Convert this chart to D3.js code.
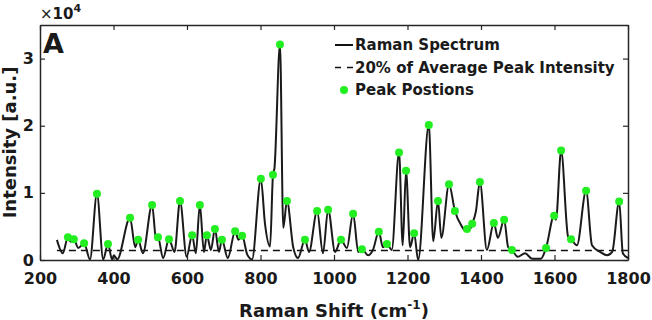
<!DOCTYPE html>
<html lang="en">
<head>
    <meta charset="UTF-8">
    <title>Raman Spectrum</title>
    <script src="https://d3js.org/d3.v7.min.js"></script>
    <style>
        body { margin: 0; background: #fff; }
        text { font-family: "DejaVu Sans", sans-serif; font-weight: bold; fill: #1a1a1a; }
    </style>
</head>
<body>

<svg id="chart"></svg>
<script>

    let width = 652;
    let height = 320;

    // spectrum trace, Raman shift (cm-1) vs intensity (a.u.)
    const shift = [246, 262, 276, 284, 292, 304, 320, 336, 355, 372, 385, 396, 401, 410,
        445, 459, 467, 480, 505, 516, 521, 535, 551, 566, 581, 599, 614, 624, 635, 646,
        654, 665, 676, 687, 695, 711, 731, 740, 750, 764, 777, 801, 812, 826, 834, 838,
        853, 862, 872, 889, 902, 921, 932, 954, 970, 984, 1003, 1019, 1035, 1052, 1066,
        1076, 1093, 1106, 1122, 1133, 1144, 1157, 1177, 1187, 1196, 1207, 1218, 1229,
        1258, 1270, 1283, 1292, 1313, 1329, 1348, 1356, 1362, 1369, 1376, 1386, 1397,
        1416, 1435, 1446, 1463, 1474, 1484, 1500, 1520, 1539, 1563, 1577, 1599, 1604,
        1618, 1637, 1645, 1661, 1686, 1702, 1724, 1743, 1757, 1776, 1786, 1800];
    const intensity = [3000, 1000, 3400, 2700, 3100, 1800, 2500, 100, 9850, 100, 2400, 100, 700, 100,
        6300, 1900, 3000, 1000, 8200, 3000, 3400, 300, 3100, 1200, 8800, 500, 3700, 1000, 8200, 1200,
        3700, 1500, 4600, 1200, 3000, 300, 4300, 3000, 3600, 800, 100, 12100, 5500, 2000, 12700, 13700,
        32100, 4800, 8800, 1900, 300, 3000, 1200, 7300, 1000, 7500, 1200, 3000, 1800, 6900, 1200,
        1600, 700, 1500, 4200, 1900, 2400, 1500, 16000, 2200, 13300, 1900, 4000, 0,
        20100, 2800, 8800, 3300, 11300, 7300, 5000, 4400, 4600, 4500, 5400, 7200, 11600,
        1500, 5500, 3300, 6000, 1900, 1500, 500, 1000, 200, 200, 1800, 6600, 6000,
        16300, 3500, 3100, 2200, 10300, 2200, 1200, 700, 1200, 8700, 1000, 300];

    // detected peak positions
    const peakShift = [276, 292, 320, 355, 385, 445, 467, 505, 521, 551, 581, 614, 635, 654, 676,
        695, 731, 750, 801, 834, 853, 872, 921, 954, 984, 1019, 1052, 1076, 1122, 1144, 1177,
        1196, 1218, 1258, 1283, 1313, 1329, 1362, 1376, 1397, 1435, 1463, 1484, 1577, 1599,
        1618, 1645, 1686, 1776];
    const peakIntensity = [3400, 3100, 2500, 9850, 2400, 6300, 3000, 8200, 3400, 3100, 8800, 3700,
        8200, 3700, 4600, 3000, 4300, 3600, 12100, 12700, 32100, 8800, 3000, 7300, 7500, 3000,
        6900, 1600, 4200, 2400, 16000, 13300, 4000, 20100, 8800, 11300, 7300, 4600, 5400, 11600,
        5500, 6000, 1500, 1800, 6600, 16300, 3100, 10300, 8700];

    const xTicks = [200, 400, 600, 800, 1000, 1200, 1400, 1600, 1800];
    const yTicks = [0, 10000, 20000, 30000];

    const legendLabels = ['Raman Spectrum', '20% of Average Peak Intensity', 'Peak Postions'];

    const margin = {top: 25, right: 24, bottom: 60, left: 40};
    const innerW = width - margin.left - margin.right;
    const innerH = height - margin.top - margin.bottom;
    const dotColour = '#22ee22';
    const axisColour = '#262626';

    let svg = d3.select('#chart')
        .attr('width', width)
        .attr('height', height);

    let g = svg.append('g')
        .attr('transform', `translate(${margin.left},${margin.top})`);

    let x = d3.scaleLinear().domain([200, 1800]).range([0, innerW]);
    let y = d3.scaleLinear().domain([0, 35000]).range([innerH, 0]);

    // axes, ticks pointing inward on all four sides
    let styleAxis = (sel) => {
        sel.select('.domain').attr('stroke', axisColour).attr('stroke-width', 1.5);
        sel.selectAll('.tick line').attr('stroke', axisColour).attr('stroke-width', 1.2);
        sel.selectAll('.tick text').attr('font-size', 16).attr('fill', '#1a1a1a');
    };

    g.append('g')
        .attr('transform', `translate(0,${innerH})`)
        .call(d3.axisBottom(x).tickValues(xTicks).tickSizeInner(-5).tickSizeOuter(0).tickPadding(13)
            .tickFormat(d3.format('d')))
        .call(styleAxis);
    g.append('g')
        .call(d3.axisTop(x).tickValues(xTicks).tickSizeInner(-5).tickSizeOuter(0).tickFormat(''))
        .call(styleAxis);
    g.append('g')
        .call(d3.axisLeft(y).tickValues(yTicks).tickSizeInner(-5).tickSizeOuter(0).tickPadding(6)
            .tickFormat((d) => d / 10000))
        .call(styleAxis);
    g.append('g')
        .attr('transform', `translate(${innerW},0)`)
        .call(d3.axisRight(y).tickValues(yTicks).tickSizeInner(-5).tickSizeOuter(0).tickFormat(''))
        .call(styleAxis);

    // threshold line
    const threshold = 0.2 * d3.mean(peakIntensity);
    g.append('line')
        .attr('x1', x(shift[0]))
        .attr('x2', x(shift[shift.length - 1]))
        .attr('y1', y(threshold))
        .attr('y2', y(threshold))
        .attr('stroke', '#111')
        .attr('stroke-width', 1.5)
        .attr('stroke-dasharray', '7,5');

    // spectrum
    let pts = shift.map((s, i) => [s, intensity[i]]);
    let line = d3.line()
        .x((d) => x(d[0]))
        .y((d) => y(d[1]))
        .curve(d3.curveMonotoneX);
    g.append('path')
        .datum(pts)
        .attr('d', line)
        .attr('fill', 'none')
        .attr('stroke', '#1a1a1a')
        .attr('stroke-width', 2)
        .attr('stroke-linejoin', 'round');

    // peak markers
    g.selectAll('circle.peak')
        .data(peakShift.map((s, i) => [s, peakIntensity[i]]))
        .enter().append('circle')
        .attr('class', 'peak')
        .attr('cx', (d) => x(d[0]))
        .attr('cy', (d) => y(d[1]))
        .attr('r', 4)
        .attr('fill', dotColour);

    // legend
    let legend = svg.append('g').attr('transform', 'translate(335,45)');
    legendLabels.forEach((label, i) => {
        let row = legend.append('g').attr('transform', `translate(0,${i * 22.5})`);
        if (i === 0) {
            row.append('line').attr('x1', 0).attr('x2', 18)
                .attr('stroke', '#111').attr('stroke-width', 2);
        } else if (i === 1) {
            row.append('line').attr('x1', 0).attr('x2', 18)
                .attr('stroke', '#111').attr('stroke-width', 1.5)
                .attr('stroke-dasharray', '6,6');
        } else {
            row.append('circle').attr('cx', 9).attr('r', 4).attr('fill', dotColour);
        }
        row.append('text')
            .attr('x', 20)
            .attr('dy', '0.36em')
            .attr('font-size', 15)
            .text(label);
    });

    // panel letter
    svg.append('text')
        .attr('x', 43)
        .attr('y', 53)
        .attr('font-size', 27)
        .attr('font-family', 'Liberation Sans, Arial, sans-serif')
        .text('A');

    // exponent
    let expo = svg.append('text').attr('x', 40).attr('y', 19).attr('font-size', 15);
    expo.append('tspan').attr('font-weight', 'normal').text('\u00d7');
    expo.append('tspan').text('10');
    expo.append('tspan').attr('font-size', 11).attr('dy', -7).text('4');

    // axis titles
    let xt = svg.append('text')
        .attr('x', margin.left + innerW / 2)
        .attr('y', 317)
        .attr('text-anchor', 'middle')
        .attr('font-size', 18);
    xt.append('tspan').text('Raman Shift (cm');
    xt.append('tspan').attr('font-size', 12).attr('dy', -8).text('-1');
    xt.append('tspan').attr('dy', 8).text(')');

    svg.append('text')
        .attr('transform', `translate(16,${margin.top + innerH / 2}) rotate(-90)`)
        .attr('text-anchor', 'middle')
        .attr('font-size', 18)
        .text('Intensity [a.u.]');

</script>

</body>

</html>
